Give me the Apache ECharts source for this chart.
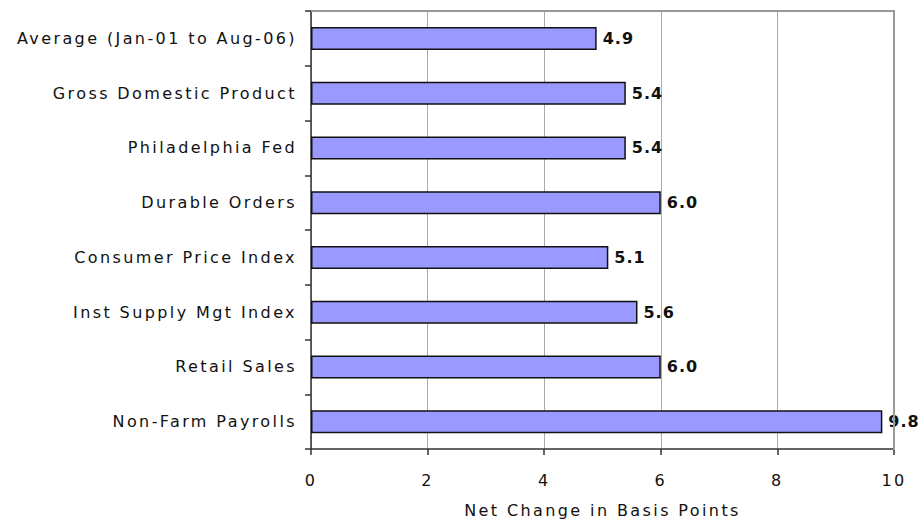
<!DOCTYPE html>
<html><head><meta charset="utf-8">
<script src="https://cdn.jsdelivr.net/npm/echarts@6/dist/echarts.min.js"></script>
<style>html,body{margin:0;padding:0;background:#fff}#c{width:921px;height:523px}
#c text{letter-spacing:2.4px}
#c text[style*="bold"], #c text[font-weight="bold"]{letter-spacing:1px}
</style>
</head><body><div id="c"></div>
<script>
var categories = ["Non-Farm Payrolls","Retail Sales","Inst Supply Mgt Index","Consumer Price Index","Durable Orders","Philadelphia Fed","Gross Domestic Product","Average (Jan-01 to Aug-06)"];
var values = [9.8, 6.0, 5.6, 5.1, 6.0, 5.4, 5.4, 4.9];
var xTicks = [0, 2, 4, 6, 8, 10];
var xTitle = "Net Change in Basis Points";

var font = "'DejaVu Sans', Verdana, sans-serif";
var chart = echarts.init(document.getElementById('c'), null, {renderer:'svg'});
chart.setOption({
  animation:false,
  grid:{left:311, top:11, width:583, height:439, containLabel:false, show:false},
  xAxis:{type:'value', min:xTicks[0], max:xTicks[xTicks.length-1], interval:2,
    axisLine:{show:true, onZero:false, lineStyle:{color:'#333', width:1.5}},
    axisTick:{show:true, length:6, lineStyle:{color:'#333', width:1.5}},
    axisLabel:{color:'#111', fontFamily:font, fontSize:16, margin:23},
    splitLine:{show:true, lineStyle:{color:'#aaa', width:1}},
    name:xTitle, nameLocation:'middle', nameGap:53,
    nameTextStyle:{color:'#111', fontFamily:font, fontSize:16}},
  yAxis:{type:'category', data:categories, boundaryGap:true,
    axisLine:{show:true, lineStyle:{color:'#333', width:1.5}},
    axisTick:{show:true, length:6, lineStyle:{color:'#333', width:1.5}},
    axisLabel:{color:'#111', fontFamily:font, fontSize:16, margin:14}},
  series:[
    {type:'bar', data:values, barWidth:23,
     itemStyle:{color:'#9999ff', borderColor:'#111', borderWidth:1.5},
     label:{show:true, position:'right', distance:6, formatter:function(p){return p.value.toFixed(1);},
       color:'#111', fontFamily:font, fontSize:16, fontWeight:'bold'}}
  ],
  graphic:[
    {type:'polyline', shape:{points:[[311,11],[894,11],[894,450]]}, style:{stroke:'#999', lineWidth:2, fill:null}, z:10}
  ]
});
</script></body></html>
